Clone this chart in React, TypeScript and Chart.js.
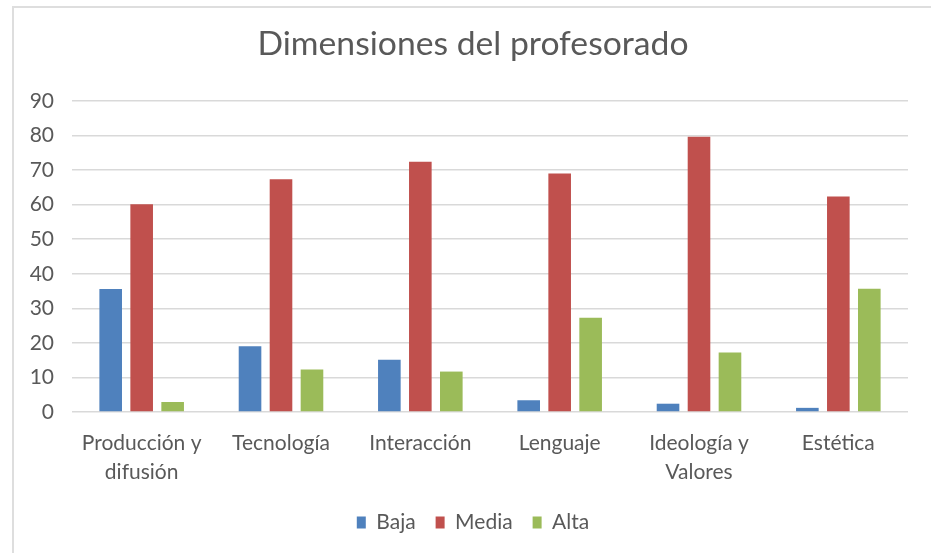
import React, { useEffect, useRef } from "react";
import { Chart, registerables } from "chart.js";

Chart.register(...registerables);

const categories: (string | string[])[] = [
  ["Producción y", "difusión"],
  "Tecnología",
  "Interacción",
  "Lenguaje",
  ["Ideología y", "Valores"],
  "Estética",
];
const baja = [35.6, 19.0, 15.1, 3.4, 2.4, 1.2];
const media = [60.1, 67.4, 72.4, 69.0, 79.7, 62.4];
const alta = [2.9, 12.3, 11.7, 27.3, 17.2, 35.7];
const seriesNames = ["Baja", "Media", "Alta"];
const yMax = 90;
const yStep = 10;

const FONT = "Lato, 'Open Sans', sans-serif";
const TEXT = "#595959";

// Title and legend are centred over the chart frame, which starts left of the plot.
const shiftHeaderPlugin = {
  id: "shiftHeader",
  afterLayout(chart: any) {
    if (chart.titleBlock) chart.titleBlock.left = 38;
    if (chart.legend) chart.legend.left = 38;
  },
};

export default function App() {
  const ref = useRef<HTMLCanvasElement | null>(null);
  useEffect(() => {
    if (!ref.current) return;
    const chart = new Chart(ref.current, {
      type: "bar",
      data: {
        labels: categories,
        datasets: [
          { label: seriesNames[0], data: baja, backgroundColor: "#4F81BD" },
          { label: seriesNames[1], data: media, backgroundColor: "#C0504D" },
          { label: seriesNames[2], data: alta, backgroundColor: "#9BBB59" },
        ],
      },
      plugins: [shiftHeaderPlugin],
      options: {
        animation: false,
        responsive: false,
        devicePixelRatio: 1,
        layout: { padding: { left: 0, right: 23, top: 0, bottom: 10 } },
        datasets: {
          bar: { categoryPercentage: 0.667, barPercentage: 0.73 },
        },
        plugins: {
          title: {
            display: true,
            text: "Dimensiones del profesorado",
            color: TEXT,
            font: { family: FONT, size: 33.7, weight: "normal" },
            padding: { top: 24, bottom: 36.6 },
          },
          legend: {
            position: "bottom",
            labels: {
              color: TEXT,
              font: { family: FONT, size: 21 },
              boxWidth: 9,
              boxHeight: 12,
              padding: 20,
            },
          },
          tooltip: { enabled: false },
        },
        scales: {
          x: {
            grid: { display: false, drawTicks: false },
            border: { display: false },
            ticks: {
              color: TEXT,
              font: { family: FONT, size: 21, lineHeight: 1.38 },
              padding: 17,
              maxRotation: 0,
              autoSkip: false,
            },
            afterFit: (s: any) => {
              s.height = 80;
            },
          },
          y: {
            min: 0,
            max: yMax,
            ticks: {
              stepSize: yStep,
              color: TEXT,
              font: { family: FONT, size: 21 },
              padding: 18,
            },
            grid: { color: "#d9d9d9", lineWidth: 1.5, drawTicks: false },
            border: { display: false },
            afterFit: (s: any) => {
              s.width = 72;
            },
          },
        },
      },
    });
    return () => chart.destroy();
  }, []);
  return (
    <div style={{ position: "fixed", left: 0, top: 0, width: 931, height: 553, background: "#fff" }}>
      <div
        style={{
          position: "absolute",
          left: 12,
          top: 6,
          right: -10,
          bottom: -10,
          borderLeft: "2px solid #dedede",
          borderTop: "2px solid #dedede",
        }}
      />
      <canvas ref={ref} width={931} height={553} style={{ position: "absolute", left: 0, top: 0 }} />
    </div>
  );
}
